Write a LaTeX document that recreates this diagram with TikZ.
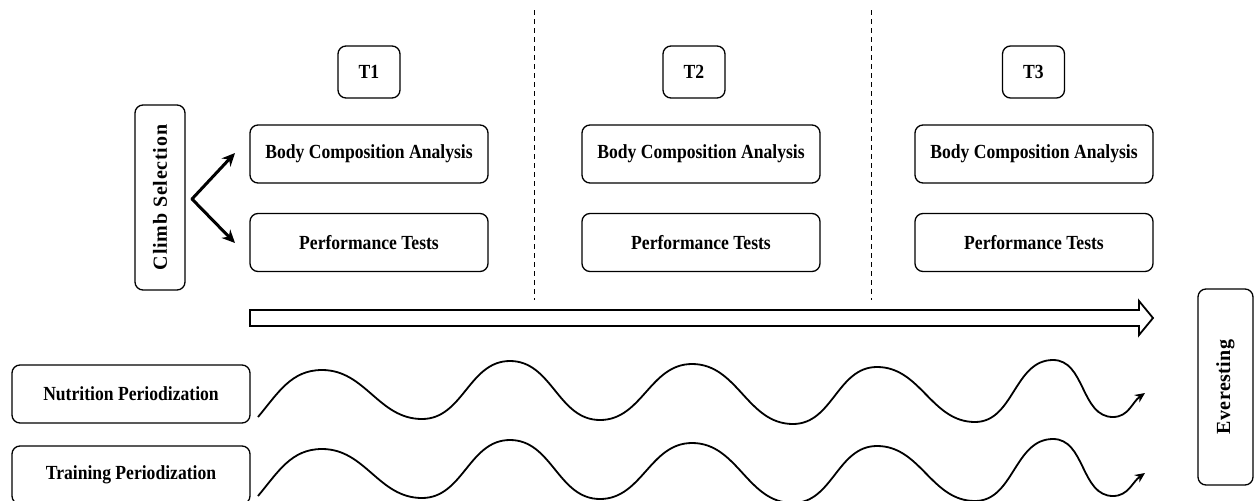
\documentclass[tikz,border=0pt]{standalone}
\usepackage{fontspec}
\setmainfont{Liberation Serif}[FakeStretch=0.88]
\newfontfamily\vfont{Liberation Serif}[LetterSpace=4]
\newfontfamily\efont{Liberation Serif}[LetterSpace=2.5]
\usetikzlibrary{arrows.meta}
\tikzset{
  lbl/.style={font=\fontsize{20}{22}\selectfont\bfseries},
  box/.style={draw, rounded corners=8pt, line width=1.3pt, inner sep=0pt, align=center, lbl},
  widebox/.style={box, minimum width=238pt, minimum height=58pt},
  tbox/.style={box, minimum width=62pt, minimum height=52pt},
  vbox/.style={box, rotate=90},
  sep/.style={dashed, dash pattern=on 5pt off 4pt, line width=1pt},
  forkarrow/.style={line width=3pt, -{Stealth[length=13pt,width=12pt]}},
  wave/.style={line width=1.8pt, -{Stealth[length=10pt,width=9pt]}},
  bigarrow/.style={draw, line width=1.8pt, fill=white, line join=miter}
}
\begin{document}
\begin{tikzpicture}[x=1pt,y=-1pt]
\useasboundingbox (0,0) rectangle (1254,501);
\fill[white] (0,0) rectangle (1254,501);

% time points
\node[tbox] (t1) at (369,72) {T1};
\node[tbox] (t2) at (694,72) {T2};
\node[tbox] (t3) at (1033.5,72) {T3};

% measurement boxes
\node[widebox] (b1) at (369,154) {Body Composition Analysis};
\node[widebox] (p1) at (369,242.5) {Performance Tests};
\node[widebox] (b2) at (701,154) {Body Composition Analysis};
\node[widebox] (p2) at (701,242.5) {Performance Tests};
\node[widebox] (b3) at (1034,154) {Body Composition Analysis};
\node[widebox] (p3) at (1034,242.5) {Performance Tests};

% climb selection
\node[vbox, minimum width=185pt, minimum height=50pt] (cs) at (160,197.5) {\vfont Climb Selection};
\coordinate (v) at (192,199);
\coordinate (a1) at (235,153);
\coordinate (a2) at (235,243);
\draw[forkarrow, line cap=round] (v) -- (a1);
\draw[forkarrow, line cap=round] (v) -- (a2);

% separators
\coordinate (d1t) at (534,10);
\coordinate (d1b) at (534,300);
\coordinate (d2t) at (871,10);
\coordinate (d2b) at (871,300);
\draw[sep] (d1t) -- (d1b);
\draw[sep] (d2t) -- (d2b);

% big timeline arrow
\coordinate (s0) at (250,310);
\path[bigarrow] (s0) -- (1139,310) -- (1139,301) -- (1153,318) -- (1139,335) -- (1139,326) -- (250,326) -- cycle;

% periodization boxes
\node[widebox] (np) at (131,394) {Nutrition Periodization};
\node[widebox] (tp) at (131,475) {Training Periodization};

% everesting
\node[vbox, minimum width=196pt, minimum height=55pt] (ev) at (1225.5,387) {\efont Everesting};

% waves
\coordinate (n0) at (258,417);
\coordinate (nE) at (1145,393);
\draw[wave] (n0) to[out=50,in=180] (322,370) to[out=0,in=180] (422,419)
  to[out=0,in=180] (510,361) to[out=0,in=180] (600,420)
  to[out=0,in=180] (692,364) to[out=0,in=180] (793,424)
  to[out=0,in=180] (877,367) to[out=0,in=180] (975,422)
  to[out=0,in=180] (1053,360) to[out=0,in=180] (1113,417)
  to[out=0,in=215] (nE);

\coordinate (w0) at (258,496);
\coordinate (wE) at (1145,473);
\draw[wave] (w0) to[out=50,in=180] (322,449) to[out=0,in=180] (422,498)
  to[out=0,in=180] (510,440) to[out=0,in=180] (600,499)
  to[out=0,in=180] (692,443) to[out=0,in=180] (793,503)
  to[out=0,in=180] (877,446) to[out=0,in=180] (975,501)
  to[out=0,in=180] (1053,439) to[out=0,in=180] (1113,496)
  to[out=0,in=215] (wE);
\end{tikzpicture}
\end{document}
